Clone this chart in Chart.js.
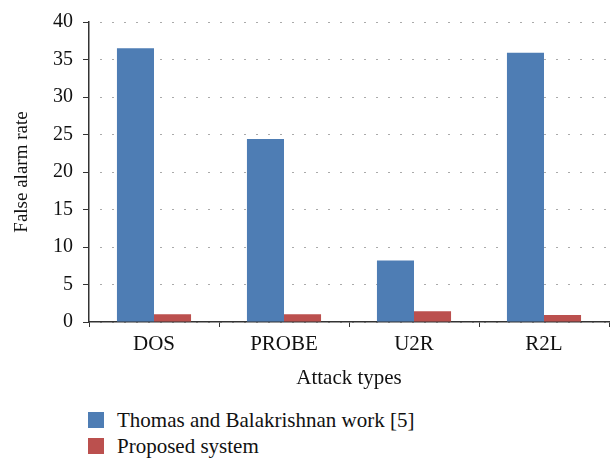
<!DOCTYPE html>
<html>
<head>
<meta charset="utf-8">
<script src="https://cdn.jsdelivr.net/npm/chart.js@4"></script>
<style>
  body { margin: 0; background: #fff; font-family: 'Liberation Serif', serif; }
  #wrap { position: relative; width: 614px; height: 395px; }
  .legend { position: absolute; left: 88px; top: 407px; color: #111; font-size: 21px; }
  .legend div { height: 26px; display: flex; align-items: center; }
  .legend span.box { display: inline-block; width: 16px; height: 16px; margin-right: 13px; }
</style>
</head>
<body>
<div id="wrap"><canvas id="chart"></canvas></div>
<div class="legend" id="legend"></div>
<script>
// categories and series
const attackTypes = ['DOS', 'PROBE', 'U2R', 'R2L'];
const thomasWork  = [36.5, 24.4, 8.2, 35.9];
const proposed    = [1.05, 1.05, 1.45, 0.95];
const yTicks      = [0, 5, 10, 15, 20, 25, 30, 35, 40];
const seriesNames = ['Thomas and Balakrishnan work [5]', 'Proposed system'];
const seriesColors = ['#4e7db4', '#bb504e'];

const serif = "'Liberation Serif', 'Times New Roman', serif";
const axisColor = '#333';

new Chart(document.getElementById('chart').getContext('2d'), {
  type: 'bar',
  data: {
    labels: attackTypes,
    datasets: [
      { label: seriesNames[0], data: thomasWork, backgroundColor: seriesColors[0] },
      { label: seriesNames[1], data: proposed,   backgroundColor: seriesColors[1] }
    ]
  },
  options: {
    responsive: true,
    maintainAspectRatio: false,
    animation: false,
    datasets: { bar: { categoryPercentage: 0.57, barPercentage: 1.0 } },
    layout: { padding: { left: 0, right: 5, top: 19, bottom: 0 } },
    plugins: { legend: { display: false }, tooltip: { enabled: false } },
    scales: {
      x: {
        offset: true,
        grid: { offset: true, drawOnChartArea: false, drawTicks: true, tickLength: 5, color: axisColor, tickColor: axisColor },
        border: { display: true, color: axisColor, width: 1.5 },
        ticks: { color: '#111', font: { family: serif, size: 21 }, padding: 5, maxRotation: 0 },
        title: { display: true, text: 'Attack types', color: '#111', font: { family: serif, size: 21 }, padding: { top: 2 } },
        afterFit: s => { s.height = 73; }
      },
      y: {
        min: 0, max: 40,
        afterBuildTicks: s => { s.ticks = yTicks.map(v => ({ value: v })); },
        grid: { color: '#555', lineWidth: 1, tickLength: 6, tickColor: axisColor, tickBorderDash: [] },
        border: { display: true, color: axisColor, width: 1.5, dash: [1, 11], dashOffset: 1 },
        ticks: { color: '#111', font: { family: serif, size: 20 }, padding: 10 },
        title: { display: true, text: 'False alarm rate', color: '#111', font: { family: serif, size: 19 }, padding: { top: 11 } },
        afterFit: s => { s.width = 89; }
      }
    }
  }
});

// legend below the chart
const legendEl = document.getElementById('legend');
seriesNames.forEach((name, i) => {
  const row = document.createElement('div');
  row.innerHTML = `<span class="box" style="background:${seriesColors[i]}"></span>${name}`;
  legendEl.appendChild(row);
});
</script>
</body>
</html>
